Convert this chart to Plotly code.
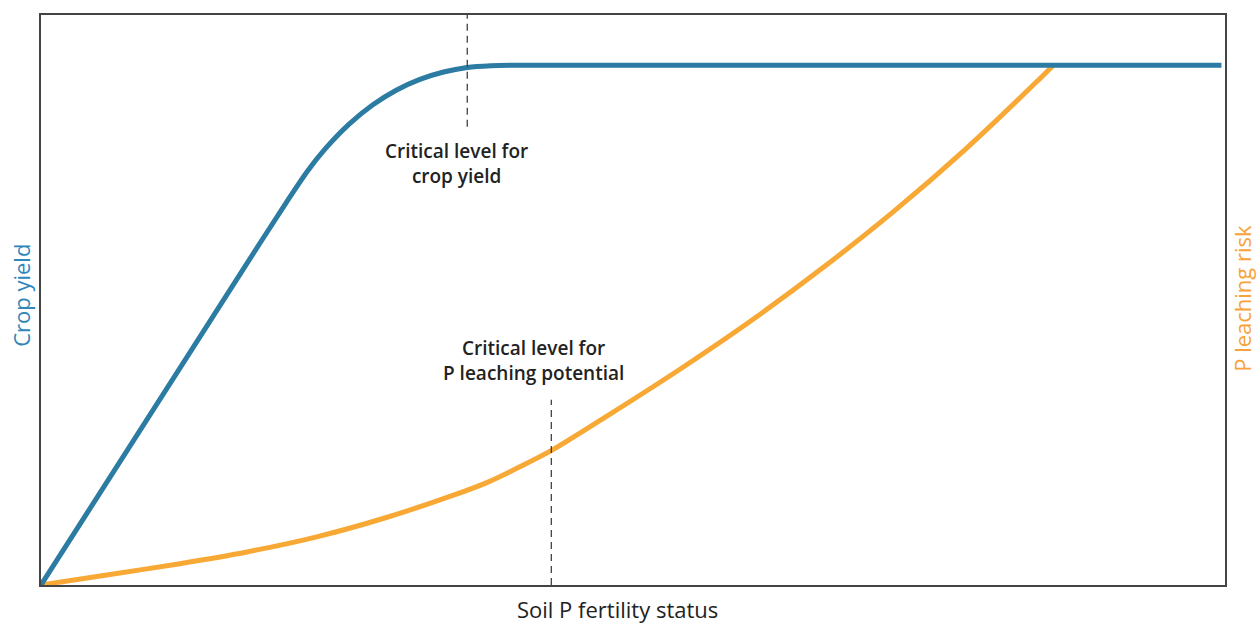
import plotly.graph_objects as go

# Soil P fertility status (arbitrary units 0-100)
yield_x = [0, 18.5, 21, 22.5, 24, 26, 28, 30, 32, 34, 36, 38, 40.5, 99.7]
yield_y = [0, 60.0, 68.0, 72.6, 76.5, 80.8, 84.2, 86.8, 88.7, 90.0, 90.8, 91.1, 91.2, 91.2]

leach_x = [0, 5.7, 11.6, 17.4, 23.2, 29.1, 34.9, 37.8, 40.7, 43.2, 48, 54, 60, 66, 72, 78, 84, 85.5]
leach_y = [0, 1.8, 3.7, 5.8, 8.4, 11.8, 15.8, 18.1, 21.0, 23.7, 29.9, 37.9, 46.4, 55.6, 65.5, 76.3, 88.1, 91.2]

# critical levels: x position, dashed segment start/end (y)
crit_x = [36.0, 43.1]
crit_y0 = [80.4, 0]
crit_y1 = [100, 32.5]
crit_labels = ["Critical level for<br>crop yield", "Critical level for<br>P leaching potential"]
crit_label_x = [35.1, 41.6]
crit_label_y = [74.0, 39.3]

BLUE = "#2b7ba3"
ORANGE = "#f8a935"

fig = go.Figure()
fig.add_trace(go.Scatter(x=leach_x, y=leach_y, mode="lines",
                         line=dict(color=ORANGE, width=5, shape="spline", smoothing=0.8),
                         hoverinfo="skip", showlegend=False))
fig.add_trace(go.Scatter(x=yield_x, y=yield_y, mode="lines",
                         line=dict(color=BLUE, width=5, shape="spline", smoothing=0.8),
                         hoverinfo="skip", showlegend=False))
for cx, a, b in zip(crit_x, crit_y0, crit_y1):
    fig.add_trace(go.Scatter(x=[cx, cx], y=[a, b], mode="lines",
                             line=dict(color="#333333", width=1.2, dash="7px,5px"),
                             hoverinfo="skip", showlegend=False))

annotations = []
for t, lx, ly in zip(crit_labels, crit_label_x, crit_label_y):
    annotations.append(dict(x=lx, y=ly, xref="x", yref="y", text=t, showarrow=False,
                            xanchor="center", yanchor="middle",
                            font=dict(family="Open Sans", size=19, color="#222222", weight=600),
                            align="center"))

annotations += [
    dict(x=-0.0169, y=0.509, xref="paper", yref="paper", text="Crop yield", textangle=-90,
         xanchor="center", yanchor="middle",
         showarrow=False, font=dict(family="Open Sans", size=22, color="#2f86b8")),
    dict(x=1.0142, y=0.5035, xref="paper", yref="paper", text="P leaching risk", textangle=-90,
         xanchor="center", yanchor="middle",
         showarrow=False, font=dict(family="Open Sans", size=22, color="#f7a23a")),
    dict(x=0.487, y=-0.0418, xref="paper", yref="paper", text="Soil P fertility status",
         xanchor="center", yanchor="middle",
         showarrow=False, font=dict(family="Open Sans", size=22, color="#222222")),
]

axis_common = dict(range=[0, 100], showgrid=False, zeroline=False, showticklabels=False,
                   ticks="", showline=True, linecolor="#444444", linewidth=2, mirror=True,
                   fixedrange=True)

fig.update_layout(
    width=1257, height=624,
    margin=dict(l=41, r=32, t=15, b=39),
    paper_bgcolor="white", plot_bgcolor="white",
    xaxis=axis_common, yaxis=axis_common,
    annotations=annotations,
    showlegend=False,
)

# remove the default 8px page margin so the figure fills the window exactly
fig.write_html("out.html",
               config={"displayModeBar": False},
               post_script="document.body.style.margin='0';document.body.style.overflow='hidden';")
